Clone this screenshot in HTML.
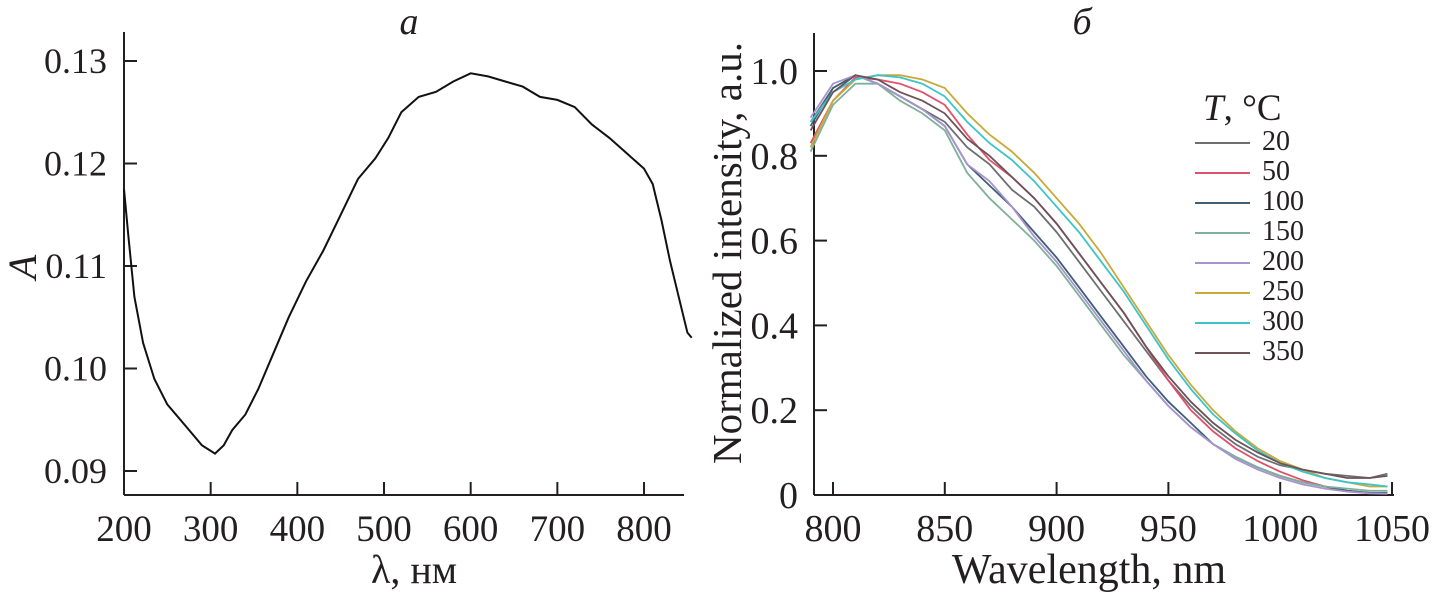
<!DOCTYPE html>
<html><head><meta charset="utf-8"><style>
body{margin:0;background:#fff}
svg text{font-family:"Liberation Serif","DejaVu Serif",serif;fill:#231f20}
</style></head><body>
<svg width="1435" height="597" viewBox="0 0 1435 597" xmlns="http://www.w3.org/2000/svg">
<g id="left"></g>
<g id="right"></g>
</svg>
<script>
const lamA=[200,205,212,222,235,250,270,290,305,315,325,340,355,370,390,410,430,450,470,490,505,520,540,560,580,600,620,640,660,680,700,720,740,760,780,800,810,820,830,840,850,855];
const absA=[.1175,.113,.107,.1025,.099,.0965,.0945,.0925,.0917,.0925,.094,.0955,.098,.101,.105,.1085,.1115,.115,.1185,.1205,.1225,.125,.1265,.127,.128,.1288,.1285,.128,.1275,.1265,.1262,.1255,.1238,.1225,.121,.1195,.118,.1145,.1105,.107,.1035,.103];
const leftXTicks=[200,300,400,500,600,700,800];
const leftYTicks=[0.09,0.10,0.11,0.12,0.13];
const wl=[790,800,810,820,830,840,850,860,870,880,890,900,910,920,930,940,950,960,970,980,990,1000,1010,1020,1030,1040,1048];
const tempLabels=["20","50","100","150","200","250","300","350"];
const s20=[.88,.96,.99,.97,.94,.91,.88,.82,.78,.72,.68,.62,.55,.48,.41,.34,.27,.21,.16,.12,.09,.07,.06,.05,.045,.04,.05];
const s50=[.83,.93,.985,.98,.97,.95,.92,.85,.79,.75,.70,.64,.57,.50,.43,.35,.27,.20,.15,.11,.08,.055,.035,.02,.01,.005,.005];
const s100=[.87,.96,.99,.97,.94,.91,.87,.78,.73,.68,.62,.56,.49,.42,.35,.28,.22,.17,.12,.09,.065,.045,.03,.02,.01,.005,.005];
const s150=[.81,.92,.97,.97,.93,.90,.86,.76,.70,.65,.60,.54,.47,.40,.33,.27,.21,.16,.12,.09,.065,.045,.03,.02,.015,.01,.01];
const s200=[.89,.97,.99,.97,.94,.91,.87,.78,.74,.68,.61,.55,.48,.41,.34,.27,.21,.16,.12,.085,.06,.04,.025,.015,.008,.004,.003];
const s250=[.82,.93,.98,.99,.99,.98,.96,.90,.85,.81,.76,.70,.64,.57,.49,.41,.33,.26,.20,.15,.11,.08,.06,.04,.03,.02,.02];
const s300=[.88,.95,.98,.99,.985,.97,.94,.88,.83,.79,.74,.68,.62,.55,.48,.40,.32,.25,.19,.145,.105,.075,.055,.04,.03,.025,.02];
const s350=[.86,.95,.99,.98,.95,.93,.90,.84,.80,.75,.70,.64,.57,.50,.43,.35,.28,.22,.17,.13,.10,.075,.06,.05,.04,.04,.045];
const rightXTicks=[800,850,900,950,1000,1050];
const rightYTicks=[0,0.2,0.4,0.6,0.8,1.0];
const series=[s20,s50,s100,s150,s200,s250,s300,s350];
const colors=["#6d6e71","#e0506a","#3f5f75","#7fb09a","#a993cf","#c9a93a","#3cc4c8","#6b5358"];
const NS="http://www.w3.org/2000/svg";
function mk(p,t,a,txt){const e=document.createElementNS(NS,t);for(const k in a)e.setAttribute(k,a[k]);if(txt!==undefined)e.textContent=txt;p.appendChild(e);return e;}
// left
const L=document.getElementById('left');
const lx=v=>124+(v-200)*0.8667, ly=v=>61+(0.13-v)*10250;
let e;
e=mk(L,'line',{x1:124,y1:32,x2:124,y2:495,stroke:'#231f20','stroke-width':2});

e=mk(L,'line',{x1:124,y1:495,x2:684,y2:495,stroke:'#231f20','stroke-width':2});

leftXTicks.forEach(t=>{const x=lx(t);
 if(t>200){e=mk(L,'line',{x1:x,y1:495,x2:x,y2:482,stroke:'#231f20','stroke-width':2});}
 e=mk(L,'text',{x:x,y:541,'text-anchor':'middle','font-size':37},String(t));
 });
leftYTicks.forEach(t=>{const y=ly(t);
 e=mk(L,'line',{x1:124,y1:y,x2:137,y2:y,stroke:'#231f20','stroke-width':2});
 e=mk(L,'text',{x:107,y:y+12,'text-anchor':'end','font-size':36},t.toFixed(2));
 });
e=mk(L,'path',{d:lamA.map((v,i)=>(i?'L':'M')+lx(v).toFixed(1)+','+ly(absA[i]).toFixed(1)).join(''),fill:'none',stroke:'#111','stroke-width':2});

e=mk(L,'text',{x:409,y:34,'text-anchor':'middle','font-size':38,'font-style':'italic'},'а');

e=mk(L,'text',{x:414,y:583,'text-anchor':'middle','font-size':40},'λ, нм');

e=mk(L,'text',{x:36,y:267,'text-anchor':'middle','font-size':40,'font-style':'italic',transform:'rotate(-90 36 267)'},'A');

// right
const R=document.getElementById('right');
const rx=v=>833+(v-800)*2.236, ry=v=>495-v*424;
e=mk(R,'line',{x1:814,y1:33,x2:814,y2:495,stroke:'#231f20','stroke-width':2});

e=mk(R,'line',{x1:814,y1:495,x2:1394,y2:495,stroke:'#231f20','stroke-width':2});

rightXTicks.forEach(t=>{const x=rx(t);
 e=mk(R,'line',{x1:x,y1:495,x2:x,y2:482,stroke:'#231f20','stroke-width':2});
 e=mk(R,'text',{x:x,y:541,'text-anchor':'middle','font-size':38},String(t));
 });
rightYTicks.forEach(t=>{const y=ry(t);
 if(t>0){e=mk(R,'line',{x1:814,y1:y,x2:827,y2:y,stroke:'#231f20','stroke-width':2});}
 e=mk(R,'text',{x:798,y:y+13,'text-anchor':'end','font-size':38},t==0?'0':t.toFixed(1));
 });
series.forEach((s,k)=>{
 e=mk(R,'path',{d:wl.map((v,i)=>(i?'L':'M')+rx(v).toFixed(1)+','+ry(s[i]).toFixed(1)).join(''),fill:'none',stroke:colors[k],'stroke-width':1.8});
 
 const y=143+k*30;
 e=mk(R,'line',{x1:1195,y1:y,x2:1250,y2:y,stroke:colors[k],'stroke-width':2});
 
 e=mk(R,'text',{x:1262,y:y+7,'font-size':28},tempLabels[k]);
 });
e=mk(R,'text',{x:1203,y:120,'font-size':37},'');

mk(e,'tspan',{'font-style':'italic'},'T');mk(e,'tspan',{},', °C');
e=mk(R,'text',{x:1082,y:34,'text-anchor':'middle','font-size':38,'font-style':'italic'},'б');

e=mk(R,'text',{x:1089,y:583,'text-anchor':'middle','font-size':42},'Wavelength, nm');

e=mk(R,'text',{x:741,y:253,'text-anchor':'middle','font-size':41,transform:'rotate(-90 741 253)'},'Normalized intensity, a.u.');

</script>
</body></html>
